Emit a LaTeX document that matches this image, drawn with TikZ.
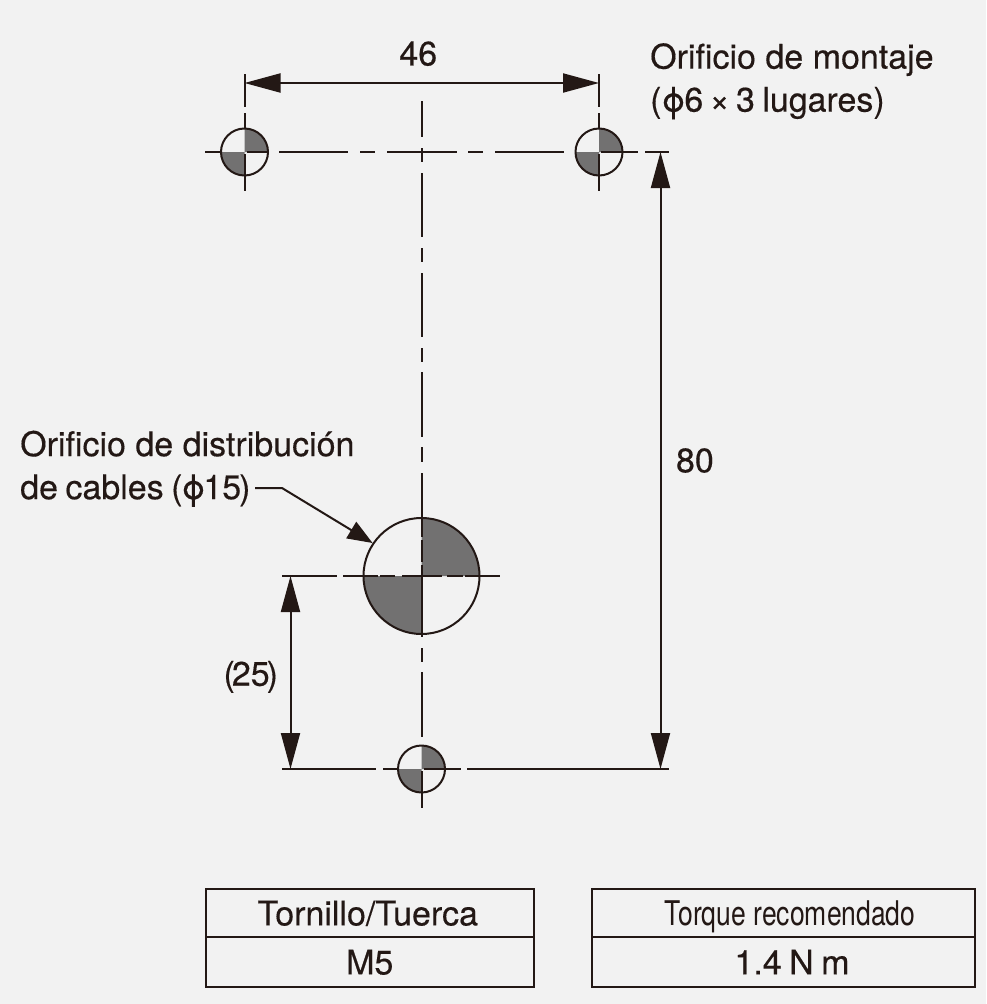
\documentclass[tikz,border=0pt]{standalone}
\usepackage{fontspec}
\setmainfont[UprightFeatures={FakeBold=0.35}]{TeX Gyre Heros}
\newfontfamily\narrowfont[FakeStretch=0.78]{TeX Gyre Heros}
\usetikzlibrary{arrows.meta}
\definecolor{ink}{HTML}{231815}
\definecolor{paper}{HTML}{F2F2F2}
\definecolor{quarter}{HTML}{727171}
\tikzset{
	line/.style={ink, line width=2pt},
	dim/.style={line, {Triangle[length=36pt,width=19pt]}-{Triangle[length=36pt,width=19pt]}},
	label/.style={ink, inner sep=0pt, font=\fontsize{34}{43}\selectfont},
	cell/.style={draw=ink, line width=2pt, outer sep=0pt, inner sep=0pt, text depth=0pt, label, anchor=north west},
}
% one hole: two grey quarters, the outline
\newcommand{\hole}[3]{
	\fill [quarter] (#1) -- ++(0,-#2) arc [start angle=90, end angle=0, radius=#2pt] -- cycle;
	\fill [quarter] (#1) -- ++(0,#2) arc [start angle=270, end angle=180, radius=#2pt] -- cycle;
	\node [circle, draw=ink, line width=2pt, minimum size=#2*2pt, inner sep=0pt] (#3) at (#1) {};
}
\begin{document}
\begin{tikzpicture}[x=1pt, y=-1pt]
	\fill [paper] (0,0) rectangle (986,1004);
	\useasboundingbox (0,0) rectangle (986,1004);

	% hole centres
	\coordinate (tl) at (244.5,152);
	\coordinate (tr) at (599,152);
	\coordinate (bt) at (421.5,769);
	\coordinate (big) at (421.5,576);

	\hole{tl}{23.5}{holeA}
	\hole{tr}{23.5}{holeB}
	\hole{bt}{23.5}{holeC}
	\hole{big}{58}{holeD}

	% draw the centre lines
	\draw [line] (205,152) -- (221,152) (246.5,152) -- (268,152) (279,152) -- (348,152) (360,152) -- (375,152) (387,152) -- (457,152)
		(468,152) -- (483,152) (495,152) -- (564,152) (601,152) -- (638,152) (645,152) -- (669,152);
	\draw [line] (421.5,101) -- (421.5,137) (421.5,148) -- (421.5,162) (421.5,173) -- (421.5,237)
		(421.5,248) -- (421.5,262) (421.5,273) -- (421.5,337) (421.5,348) -- (421.5,362) (421.5,372) -- (421.5,437)
		(421.5,447) -- (421.5,462) (421.5,473) -- (421.5,537) (421.5,540) -- (421.5,562) (421.5,565) -- (421.5,637)
		(421.5,648) -- (421.5,662) (421.5,672) -- (421.5,737) (421.5,771) -- (421.5,808);
	\draw [line] (282,576) -- (337,576) (343,576) -- (378,576) (380,576) -- (395,576) (402,576) -- (442,576)
		(447,576) -- (463,576) (465,576) -- (500,576);
	\draw [line] (282,769) -- (376,769) (383,769) -- (398,769) (423.5,769) -- (461,769) (467,769) -- (669,769);

	% extension lines of the 46
	\draw [line] (244.5,74) -- (244.5,107) (244.5,113) -- (244.5,128.5) (244.5,154) -- (244.5,191);
	\draw [line] (599,74) -- (599,107) (599,113) -- (599,128.5) (599,154) -- (599,191);

	% draw the dimensions
	\coordinate (dimL) at (244.5,83);
	\coordinate (dimR) at (599,83);
	\draw [dim] (dimL) -- (dimR) node[midway, above=16pt, xshift=-3.5pt, label](w){46};
	\coordinate (dimT) at (660.5,152);
	\coordinate (dimB) at (660.5,769);
	\draw [dim] (dimT) -- (dimB) node[midway, right=14.5pt, label](h){80};
	\coordinate (dimU) at (290.5,576);
	\coordinate (dimD) at (290.5,769);
	\draw [dim] (dimU) -- (dimD) node[pos=0.523, left=11.5pt, label](o){(\kern-3pt 25\kern-3pt)};

	% the labels
	\node [label, anchor=north west, align=left] (mount) at (650,43) {Orificio de montaje\\(ϕ\kern-1pt 6\kern-3pt\ ×\kern-3pt\ 3\kern-2pt\ lugares)};
	\node [label, anchor=north west, align=left] (cable) at (20,430.5) {Orificio de distribución\\de\kern-2pt\ cables\kern-2pt\ (\kern-1pt ϕ\kern-2pt 15\kern-2pt)};
	\coordinate (kink) at (282,488);
	\draw [line, -{Triangle[length=25pt,width=19pt]}] (255,488) -- (kink) -- (holeD.146);

	% the two tables
	\node [cell, minimum width=327.5pt, minimum height=48pt] (tool) at (206,889) {\hspace*{-4pt}Tornillo/Tuerca};
	\node [cell, minimum width=327.5pt, minimum height=50pt, anchor=north] (size) at (tool.south) {M5};
	\node [cell, minimum width=383pt, minimum height=48pt] (torque) at (591.5,889) {\hspace*{14pt}\narrowfont Torque recomendado};
	\node [cell, minimum width=383pt, minimum height=50pt, anchor=north] (value) at (torque.south) {\hspace*{18pt}1.4\kern-2pt\ N\kern-2pt\ m};
\end{tikzpicture}
\end{document}
